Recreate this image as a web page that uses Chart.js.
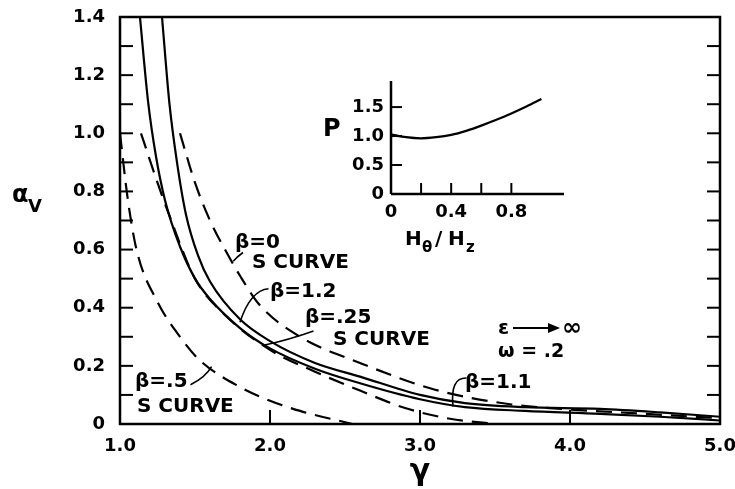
<!DOCTYPE html>
<html>
<head>
<meta charset="utf-8">
<script src="https://cdn.jsdelivr.net/npm/chart.js"></script>
<style>
  body { margin: 0; background: #fff; }
  #wrap { position: relative; width: 735px; height: 489px; }
  #main { position: absolute; left: 0; top: 0; }
  #inset { position: absolute; left: 301px; top: 71px; }
</style>
</head>
<body>
<div id="wrap">
  <canvas id="main" width="735" height="489"></canvas>
  <canvas id="inset" width="275" height="190"></canvas>
</div>
<script>
// --- datos ---
// beta = 0, curva S (discontinua)
const gammaB0 = [1.40, 1.50, 1.60, 1.70, 1.80, 1.93, 2.20, 2.60, 3.10, 3.60, 4.00, 4.50, 5.00];
const alphaB0 = [1.00, 0.83, 0.70, 0.60, 0.51, 0.41, 0.30, 0.21, 0.118, 0.068, 0.050, 0.035, 0.020];
// beta = .25, curva S (discontinua)
const gammaB025 = [1.14, 1.25, 1.32, 1.50, 1.70, 2.00, 2.30, 2.60, 2.90, 3.20, 3.50];
const alphaB025 = [1.00, 0.83, 0.73, 0.50, 0.375, 0.255, 0.18, 0.115, 0.055, 0.018, 0.0];
// beta = .5, curva S (discontinua)
const gammaB05 = [1.00, 1.05, 1.11, 1.25, 1.40, 1.53, 1.80, 2.00, 2.20, 2.55];
const alphaB05 = [1.00, 0.78, 0.60, 0.42, 0.30, 0.22, 0.127, 0.08, 0.045, 0.0];
// beta = 1.1 (continua)
const gammaB11 = [1.133, 1.187, 1.24, 1.30, 1.40, 1.50, 1.60, 1.80, 2.00, 2.30, 2.60, 3.00, 3.30, 3.70, 4.20, 4.60, 5.00];
const alphaB11 = [1.40, 1.11, 0.92, 0.77, 0.61, 0.50, 0.43, 0.33, 0.26, 0.19, 0.14, 0.085, 0.058, 0.045, 0.035, 0.025, 0.012];
// beta = 1.2 (continua)
const gammaB12 = [1.28, 1.33, 1.38, 1.44, 1.52, 1.60, 1.80, 2.00, 2.30, 2.60, 3.00, 3.30, 3.70, 4.20, 4.60, 5.00];
const alphaB12 = [1.40, 1.10, 0.90, 0.72, 0.58, 0.49, 0.36, 0.285, 0.21, 0.163, 0.10, 0.072, 0.058, 0.052, 0.040, 0.025];

// recuadro: P frente a H_theta/H_z
const hRatio = [0, 0.1, 0.2, 0.3, 0.4, 0.5, 0.6, 0.7, 0.8, 0.9, 1.0];
const pValue = [1.03, 0.98, 0.96, 0.98, 1.02, 1.09, 1.18, 1.28, 1.39, 1.51, 1.64];

const FONT = 'DejaVu Sans';
const pts = (xs, ys) => xs.map((v, i) => ({ x: v, y: ys[i] }));

function serie(xs, ys, dashed) {
    return {
        data: pts(xs, ys),
        borderColor: '#000',
        borderWidth: 2.2,
        borderDash: dashed ? [16, 9] : [],
        pointRadius: 0,
        fill: false,
        cubicInterpolationMode: 'monotone'
    };
}

function line(ctx, x1, y1, x2, y2) {
    ctx.beginPath(); ctx.moveTo(x1, y1); ctx.lineTo(x2, y2); ctx.stroke();
}

// quita el relleno automatico que Chart.js reserva para las etiquetas
function sinRelleno(s) {
    s.paddingTop = 0; s.paddingBottom = 0; s.paddingLeft = 0; s.paddingRight = 0;
}

// etiquetas en coordenadas de datos (gamma, alpha)
const notes = [
    ['β=0', 1.767, 0.606], ['S CURVE', 1.88, 0.537],
    ['β=1.2', 2.0, 0.437],
    ['β=.25', 2.233, 0.347], ['S CURVE', 2.42, 0.272],
    ['β=.5', 1.10, 0.127], ['S CURVE', 1.113, 0.041],
    ['β=1.1', 3.30, 0.124]
];
// lineas guia: inicio, control, fin
const leaders = [
    [[1.82, 0.59], [1.78, 0.575], [1.755, 0.56]],
    [[1.99, 0.465], [1.87, 0.46], [1.80, 0.35]],
    [[2.29, 0.32], [2.13, 0.29], [1.95, 0.27]],
    [[1.47, 0.135], [1.57, 0.16], [1.61, 0.197]],
    [[3.31, 0.158], [3.20, 0.16], [3.22, 0.06]]
];

const framePlugin = {
    id: 'frame',
    afterDraw(chart) {
        const { ctx, chartArea: a, scales: { x, y } } = chart;
        ctx.save();
        ctx.strokeStyle = '#000';
        ctx.fillStyle = '#000';
        ctx.lineWidth = 2.5;
        ctx.strokeRect(a.left, a.top, a.right - a.left, a.bottom - a.top);
        ctx.lineWidth = 2;
        y.ticks.forEach(t => {
            if (t.value < 0.05 || t.value > 1.35) return;
            const py = y.getPixelForValue(t.value);
            line(ctx, a.left, py, a.left + 13, py);
            line(ctx, a.right, py, a.right - 13, py);
        });
        x.ticks.forEach(t => {
            if (t.value <= 1 || t.value >= 5) return;
            const px = x.getPixelForValue(t.value);
            line(ctx, px, a.bottom, px, a.bottom - 14);
        });

        // textos de las curvas
        ctx.font = `bold 20px ${FONT}`;
        ctx.textBaseline = 'alphabetic';
        notes.forEach(([s, gx, ay]) => ctx.fillText(s, x.getPixelForValue(gx), y.getPixelForValue(ay)));

        ctx.lineWidth = 1.6;
        leaders.forEach(([p0, c, p1]) => {
            ctx.beginPath();
            ctx.moveTo(x.getPixelForValue(p0[0]), y.getPixelForValue(p0[1]));
            ctx.quadraticCurveTo(x.getPixelForValue(c[0]), y.getPixelForValue(c[1]),
                x.getPixelForValue(p1[0]), y.getPixelForValue(p1[1]));
            ctx.stroke();
        });

        // epsilon -> infinito, omega
        const ex = x.getPixelForValue(3.52), ey = y.getPixelForValue(0.31);
        ctx.font = `bold 20px ${FONT}`;
        ctx.fillText('ε', ex, ey);
        ctx.lineWidth = 2;
        line(ctx, ex + 15, ey - 6, ex + 58, ey - 6);
        ctx.beginPath();
        ctx.moveTo(ex + 62, ey - 6); ctx.lineTo(ex + 50, ey - 11); ctx.lineTo(ex + 50, ey - 1);
        ctx.closePath(); ctx.fill();
        ctx.font = `bold 24px ${FONT}`;
        ctx.fillText('∞', ex + 64, ey + 1);
        ctx.font = `bold 19px ${FONT}`;
        ctx.fillText('ω = .2', ex, y.getPixelForValue(0.23));

        // titulos de los ejes
        ctx.font = `bold 24px ${FONT}`;
        ctx.fillText('α', 12, 202);
        ctx.font = `bold 18px ${FONT}`;
        ctx.fillText('V', 28, 212);
        ctx.font = `bold 30px ${FONT}`;
        ctx.textAlign = 'center';
        ctx.fillText('γ', x.getPixelForValue(3.0), 480);
        ctx.restore();
    }
};

const tickFont = { family: FONT, size: 18, weight: 'bold' };

new Chart(document.getElementById('main'), {
    type: 'line',
    data: {
        datasets: [
            serie(gammaB0, alphaB0, true),
            serie(gammaB025, alphaB025, true),
            serie(gammaB05, alphaB05, true),
            serie(gammaB11, alphaB11, false),
            serie(gammaB12, alphaB12, false)
        ]
    },
    options: {
        responsive: false,
        animation: false,
        devicePixelRatio: 1,
        layout: { padding: { top: 17, right: 15, left: 0, bottom: 0 } },
        plugins: { legend: { display: false }, tooltip: { enabled: false } },
        scales: {
            x: {
                type: 'linear', min: 1, max: 5,
                grid: { display: false, drawTicks: false },
                border: { display: false },
                ticks: { stepSize: 1, color: '#000', font: tickFont, padding: 12,
                    callback: v => v.toFixed(1) },
                afterFit: s => { s.height = 65; sinRelleno(s); }
            },
            y: {
                min: 0, max: 1.4,
                grid: { display: false, drawTicks: false },
                border: { display: false },
                ticks: { stepSize: 0.1, autoSkip: false, color: '#000', font: tickFont, padding: 15,
                    callback: v => {
                        const k = Math.round(v * 10);
                        if (k % 2) return '';
                        return k === 0 ? '0' : (k / 10).toFixed(1);
                    } },
                afterFit: s => { s.width = 120; sinRelleno(s); }
            }
        }
    },
    plugins: [framePlugin]
});

// --- recuadro ---
const insetPlugin = {
    id: 'insetFrame',
    afterDraw(chart) {
        const { ctx, chartArea: a, scales: { x, y } } = chart;
        ctx.save();
        ctx.strokeStyle = '#000';
        ctx.fillStyle = '#000';
        ctx.lineWidth = 2.5;
        line(ctx, a.left, a.top, a.left, a.bottom);
        line(ctx, a.left, a.bottom, a.right, a.bottom);
        ctx.lineWidth = 2;
        x.ticks.forEach(t => {
            if (t.value <= 0) return;
            const px = x.getPixelForValue(t.value);
            line(ctx, px, a.bottom, px, a.bottom - 11);
        });
        y.ticks.forEach(t => {
            if (t.value <= 0) return;
            const py = y.getPixelForValue(t.value);
            line(ctx, a.left, py, a.left + 11, py);
        });
        ctx.font = `bold 24px ${FONT}`;
        ctx.fillText('P', a.left - 68, y.getPixelForValue(1.0));
        // H_theta / H_z
        const bx = a.left + 14, by = a.bottom + 51;
        ctx.font = `bold 20px ${FONT}`;
        ctx.fillText('H', bx, by);
        ctx.font = `bold 15px ${FONT}`;
        ctx.fillText('θ', bx + 17, by + 7);
        ctx.font = `bold 20px ${FONT}`;
        ctx.fillText('/', bx + 30, by);
        ctx.fillText('H', bx + 43, by);
        ctx.font = `bold 15px ${FONT}`;
        ctx.fillText('z', bx + 61, by + 7);
        ctx.restore();
    }
};

new Chart(document.getElementById('inset'), {
    type: 'line',
    data: { datasets: [serie(hRatio, pValue, false)] },
    options: {
        responsive: false,
        animation: false,
        devicePixelRatio: 1,
        layout: { padding: { top: 10, right: 12, left: 0, bottom: 0 } },
        plugins: { legend: { display: false }, tooltip: { enabled: false } },
        scales: {
            x: {
                type: 'linear', min: 0, max: 1.15,
                grid: { display: false, drawTicks: false },
                border: { display: false },
                afterBuildTicks: s => { s.ticks = s.ticks.filter(t => t.value <= 1.001); },
                ticks: { stepSize: 0.2, autoSkip: false, color: '#000', font: tickFont, padding: 8,
                    callback: v => {
                        const k = Math.round(v * 10);
                        if (k % 4) return '';
                        return k === 0 ? '0' : (k / 10).toFixed(1);
                    } },
                afterFit: s => { s.height = 67; sinRelleno(s); }
            },
            y: {
                min: 0, max: 1.95,
                grid: { display: false, drawTicks: false },
                border: { display: false },
                afterBuildTicks: s => { s.ticks = s.ticks.filter(t => t.value <= 1.501); },
                ticks: { stepSize: 0.5, autoSkip: false, color: '#000', font: tickFont, padding: 7,
                    callback: v => (v === 0 ? '0' : v.toFixed(1)) },
                afterFit: s => { s.width = 90; sinRelleno(s); }
            }
        }
    },
    plugins: [insetPlugin]
});
</script>
</body>
</html>
